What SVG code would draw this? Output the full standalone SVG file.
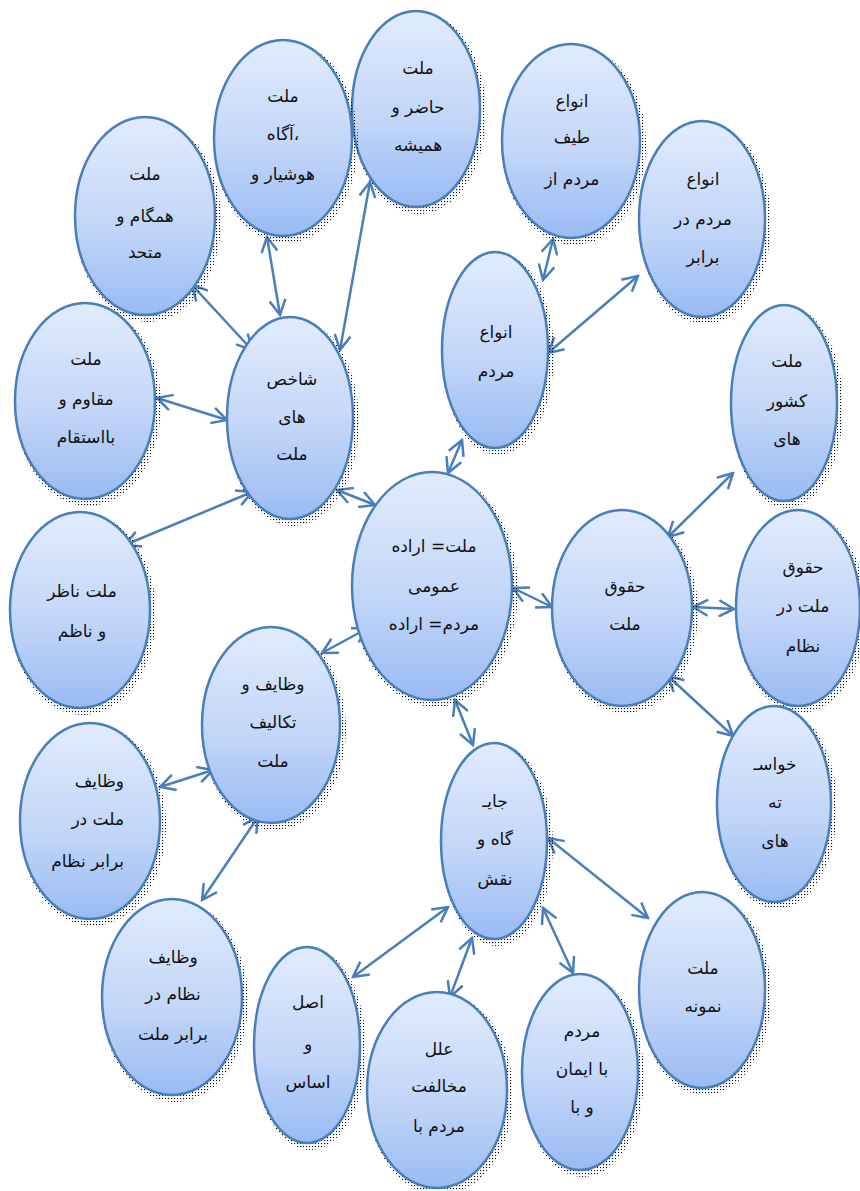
<svg xmlns="http://www.w3.org/2000/svg" width="860" height="1191" viewBox="0 0 860 1191">
<defs>
<linearGradient id="g" x1="0" y1="0" x2="0" y2="1">
<stop offset="0" stop-color="#e1ecfd"/>
<stop offset="0.55" stop-color="#c2d6f8"/>
<stop offset="1" stop-color="#98bbf3"/>
</linearGradient>
<pattern id="dots" width="3" height="3" patternUnits="userSpaceOnUse">
<rect x="0" y="0" width="1.1" height="1.1" fill="#000"/>
</pattern>
<marker id="ah" viewBox="0 0 18 18" refX="16" refY="9" markerWidth="18" markerHeight="18" markerUnits="userSpaceOnUse" orient="auto-start-reverse">
<path d="M1,1 L16,9 L1,17" fill="none" stroke="#4a7ebb" stroke-width="2.5" stroke-linejoin="miter"/>
</marker>
</defs>
<style>
.sh{fill:url(#dots)}
.el{fill:url(#g);stroke:#4a7ebb;stroke-width:2.5}
text{font-family:"DejaVu Sans",sans-serif;font-size:17px;fill:#111;text-anchor:middle}
.r{text-anchor:end}
.c{fill:none;stroke:#4a7ebb;stroke-width:2.5;marker-start:url(#ah);marker-end:url(#ah)}
</style>
<rect width="860" height="1191" fill="#fff"/>
<g id="connectors">
<line class="c" x1="192" y1="285" x2="252" y2="350"/>
<line class="c" x1="267" y1="237" x2="280" y2="315"/>
<line class="c" x1="370" y1="182" x2="340" y2="350"/>
<line class="c" x1="157" y1="398" x2="227" y2="420"/>
<line class="c" x1="125" y1="545" x2="252" y2="492"/>
<line class="c" x1="337" y1="490" x2="375" y2="505"/>
<line class="c" x1="462" y1="440" x2="448" y2="473"/>
<line class="c" x1="553" y1="239" x2="543" y2="280"/>
<line class="c" x1="548" y1="353" x2="638" y2="276"/>
<line class="c" x1="513" y1="588" x2="552" y2="607"/>
<line class="c" x1="668" y1="537" x2="733" y2="473"/>
<line class="c" x1="693" y1="607" x2="734" y2="609"/>
<line class="c" x1="668" y1="676" x2="733" y2="736"/>
<line class="c" x1="455" y1="700" x2="473" y2="745"/>
<line class="c" x1="322" y1="653" x2="368" y2="628"/>
<line class="c" x1="160" y1="787" x2="213" y2="770"/>
<line class="c" x1="258" y1="817" x2="202" y2="900"/>
<line class="c" x1="353" y1="977" x2="448" y2="907"/>
<line class="c" x1="472" y1="938" x2="450" y2="997"/>
<line class="c" x1="543" y1="908" x2="573" y2="973"/>
<line class="c" x1="548" y1="838" x2="648" y2="918"/>
</g>
<g id="n1"><ellipse class="sh" cx="419" cy="113" rx="67" ry="101"/><ellipse class="el" cx="416" cy="109" rx="64" ry="98"/><text x="418" y="74">ملت</text><text x="418" y="113">حاضر و</text><text x="418" y="151">همیشه</text></g>
<g id="n2"><ellipse class="sh" cx="286" cy="142" rx="72" ry="101"/><ellipse class="el" cx="283" cy="138" rx="69" ry="98"/><text x="283" y="102">ملت</text><text x="283" y="140">آگاه،</text><text x="283" y="180">هوشیار و</text></g>
<g id="n3"><ellipse class="sh" cx="148" cy="220" rx="73" ry="102"/><ellipse class="el" cx="145" cy="216" rx="70" ry="99"/><text x="145" y="180">ملت</text><text x="145" y="222">همگام و</text><text x="145" y="258">متحد</text></g>
<g id="n4"><ellipse class="sh" cx="574" cy="145" rx="72" ry="100"/><ellipse class="el" cx="571" cy="141" rx="69" ry="97"/><text x="572" y="107">انواع</text><text x="572" y="143">طیف</text><text x="572" y="185">مردم از</text></g>
<g id="n5"><ellipse class="sh" cx="705" cy="223" rx="66" ry="101"/><ellipse class="el" cx="702" cy="219" rx="63" ry="98"/><text x="703" y="185">انواع</text><text x="703" y="225">مردم در</text><text x="703" y="263">برابر</text></g>
<g id="n6"><ellipse class="sh" cx="498" cy="354" rx="56" ry="101"/><ellipse class="el" cx="495" cy="350" rx="53" ry="98"/><text x="496" y="338">انواع</text><text x="496" y="377">مردم</text></g>
<g id="n7"><ellipse class="sh" cx="787" cy="407" rx="56" ry="101"/><ellipse class="el" cx="784" cy="403" rx="53" ry="98"/><text x="787" y="367">ملت</text><text x="787" y="407">کشور</text><text x="787" y="445">های</text></g>
<g id="n8"><ellipse class="sh" cx="88" cy="405" rx="73" ry="101"/><ellipse class="el" cx="85" cy="401" rx="70" ry="98"/><text x="86" y="365">ملت</text><text x="86" y="405">مقاوم و</text><text x="86" y="443">بااستقام</text></g>
<g id="n9"><ellipse class="sh" cx="293" cy="422" rx="66" ry="104"/><ellipse class="el" cx="290" cy="418" rx="63" ry="101"/><text x="292" y="385">شاخص</text><text x="292" y="423">های</text><text x="292" y="460">ملت</text></g>
<g id="n10"><ellipse class="sh" cx="83" cy="614" rx="73" ry="101"/><ellipse class="el" cx="80" cy="610" rx="70" ry="98"/><text x="82" y="597">ملت ناظر</text><text x="82" y="637">و ناظم</text></g>
<g id="n11"><ellipse class="sh" cx="435" cy="590" rx="83" ry="117"/><ellipse class="el" cx="432" cy="586" rx="80" ry="114"/><text x="434" y="552">ملت= اراده</text><text x="434" y="592">عمومی</text><text x="434" y="630">مردم= اراده</text></g>
<g id="n12"><ellipse class="sh" cx="625" cy="612" rx="73" ry="101"/><ellipse class="el" cx="622" cy="608" rx="70" ry="98"/><text x="625" y="592">حقوق</text><text x="625" y="630">ملت</text></g>
<g id="n13"><ellipse class="sh" cx="801" cy="612" rx="65" ry="101"/><ellipse class="el" cx="798" cy="608" rx="62" ry="98"/><text x="803" y="573">حقوق</text><text x="803" y="612">ملت در</text><text x="803" y="652">نظام</text></g>
<g id="n14"><ellipse class="sh" cx="777" cy="808" rx="60" ry="101"/><ellipse class="el" cx="774" cy="804" rx="57" ry="98"/><text x="775" y="770">خواسـ</text><text x="775" y="808">ته</text><text x="775" y="847">های</text></g>
<g id="n15"><ellipse class="sh" cx="497" cy="845" rx="56" ry="101"/><ellipse class="el" cx="494" cy="841" rx="53" ry="98"/><text x="495" y="807">جایـ</text><text x="495" y="845">گاه و</text><text x="495" y="885">نقش</text></g>
<g id="n16"><ellipse class="sh" cx="274" cy="729" rx="72" ry="101"/><ellipse class="el" cx="271" cy="725" rx="69" ry="98"/><text x="273" y="690">وظایف و</text><text x="273" y="728">تکالیف</text><text x="273" y="767">ملت</text></g>
<g id="n17"><ellipse class="sh" cx="93" cy="825" rx="73" ry="101"/><ellipse class="el" cx="90" cy="821" rx="70" ry="98"/><text class="r" x="124" y="787">وظایف</text><text class="r" x="124" y="825">ملت در</text><text class="r" x="124" y="867">برابر نظام</text></g>
<g id="n18"><ellipse class="sh" cx="175" cy="1001" rx="73" ry="101"/><ellipse class="el" cx="172" cy="997" rx="70" ry="98"/><text x="173" y="963">وظایف</text><text x="173" y="1000">نظام در</text><text x="173" y="1040">برابر ملت</text></g>
<g id="n19"><ellipse class="sh" cx="310" cy="1049" rx="56" ry="101"/><ellipse class="el" cx="307" cy="1045" rx="53" ry="98"/><text x="308" y="1008">اصل</text><text x="308" y="1050">و</text><text x="308" y="1088">اساس</text></g>
<g id="n20"><ellipse class="sh" cx="440" cy="1094" rx="73" ry="101"/><ellipse class="el" cx="437" cy="1090" rx="70" ry="98"/><text x="439" y="1055">علل</text><text x="439" y="1092">مخالفت</text><text x="439" y="1132">مردم با</text></g>
<g id="n21"><ellipse class="sh" cx="583" cy="1076" rx="61" ry="101"/><ellipse class="el" cx="580" cy="1072" rx="58" ry="98"/><text x="582" y="1037">مردم</text><text x="582" y="1075">با ایمان</text><text x="582" y="1113">و با</text></g>
<g id="n22"><ellipse class="sh" cx="705" cy="994" rx="66" ry="101"/><ellipse class="el" cx="702" cy="990" rx="63" ry="98"/><text x="703" y="974">ملت</text><text x="703" y="1012">نمونه</text></g>
</svg>
